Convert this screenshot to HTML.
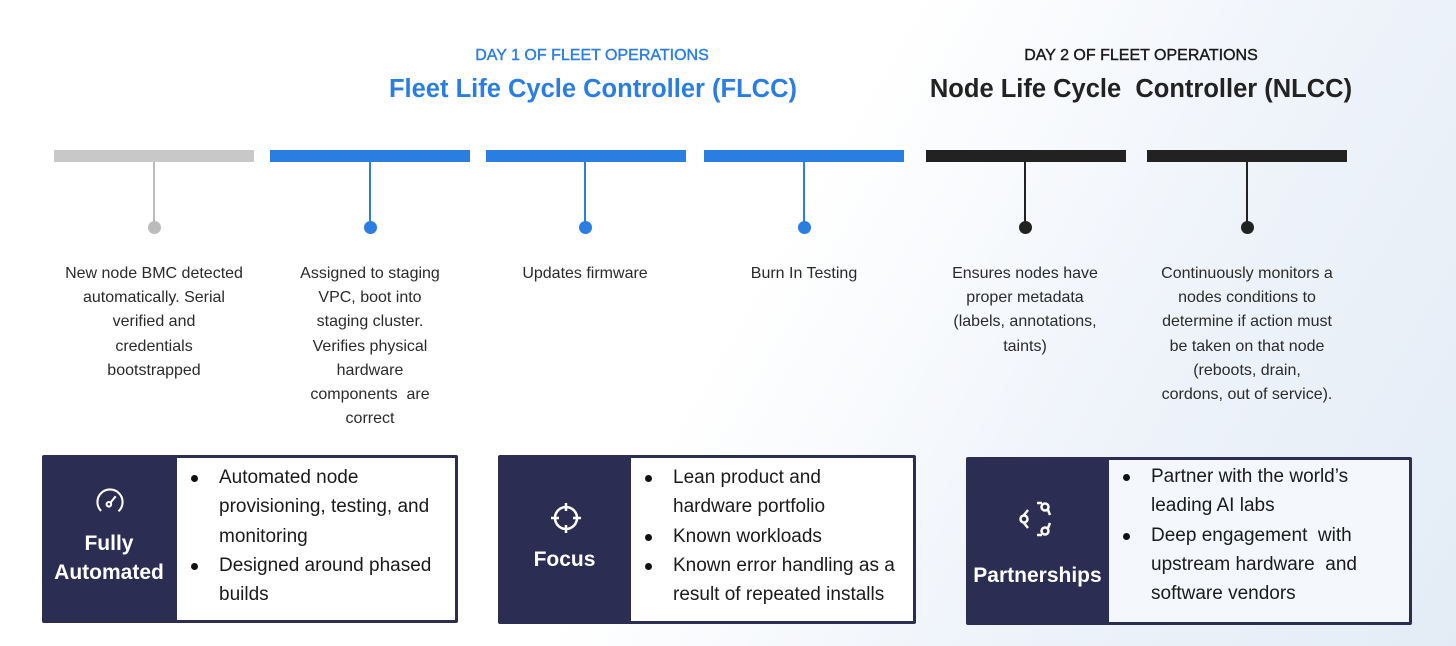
<!DOCTYPE html>
<html><head><meta charset="utf-8"><style>
*{margin:0;padding:0;box-sizing:border-box}
body{width:1456px;height:646px;overflow:hidden;position:relative;font-family:"Liberation Sans","DejaVu Sans",sans-serif;
background:linear-gradient(120deg,#ffffff 0%,#ffffff 50%,#eef3fa 75%,#e3ecf6 100%);}
.a{position:absolute}
.hd{position:absolute;text-align:center;white-space:nowrap}
.bar{position:absolute;top:150px;height:12px;width:200px}
.stem{position:absolute;top:162px;width:2px;height:64px}
.dot{position:absolute;top:221px;width:13px;height:13px;border-radius:50%}
.desc{position:absolute;top:262px;width:190px;text-align:center;font-size:16px;line-height:24.2px;color:#2a2a2a}
.box{position:absolute;background:#2b2d52;border-radius:2px}
.inner{position:absolute;background:#fff;top:3px;bottom:3px;right:3px}
.lbl{position:absolute;color:#fff;text-align:center;font-size:21px;line-height:29px;font-weight:bold}
ul{list-style:none;font-size:19px;line-height:29.3px;color:#1a1a1a}
li{position:relative;padding-left:42px}
li:before{content:"";position:absolute;left:14px;top:12px;width:7px;height:7px;border-radius:50%;background:#111}
</style></head><body>
<div class="hd" style="left:392px;width:400px;top:47px;font-size:16px;color:#2a7de1;-webkit-text-stroke:0.4px #2a7de1">DAY 1 OF FLEET OPERATIONS</div>
<div class="hd" style="left:343px;width:500px;top:75px;font-size:25.5px;font-weight:bold;color:#2a7de1">Fleet Life Cycle Controller (FLCC)</div>
<div class="hd" style="left:941px;width:400px;top:47px;font-size:16px;color:#1a1a1a;-webkit-text-stroke:0.4px #1a1a1a">DAY 2 OF FLEET OPERATIONS</div>
<div class="hd" style="left:891px;width:500px;top:75px;font-size:25.5px;font-weight:bold;color:#222">Node Life Cycle&nbsp; Controller (NLCC)</div>

<div class="bar" style="left:54px;background:#c8c8c8"></div>
<div class="bar" style="left:270px;background:#2a7de1"></div>
<div class="bar" style="left:486px;background:#2a7de1"></div>
<div class="bar" style="left:704px;background:#2a7de1"></div>
<div class="bar" style="left:926px;background:#222"></div>
<div class="bar" style="left:1147px;background:#222"></div>

<div class="stem" style="left:153px;background:#bbb"></div><div class="dot" style="left:148px;background:#bbb"></div>
<div class="stem" style="left:369px;background:#2a7de1"></div><div class="dot" style="left:364px;background:#2a7de1"></div>
<div class="stem" style="left:584px;background:#2a7de1"></div><div class="dot" style="left:579px;background:#2a7de1"></div>
<div class="stem" style="left:803px;background:#2a7de1"></div><div class="dot" style="left:798px;background:#2a7de1"></div>
<div class="stem" style="left:1024px;background:#222"></div><div class="dot" style="left:1019px;background:#222"></div>
<div class="stem" style="left:1246px;background:#222"></div><div class="dot" style="left:1241px;background:#222"></div>

<div class="desc" style="left:59px;width:190px">New node BMC detected<br>automatically. Serial<br>verified and<br>credentials<br>bootstrapped</div>
<div class="desc" style="left:275px">Assigned to staging<br>VPC, boot into<br>staging cluster.<br>Verifies physical<br>hardware<br>components&nbsp; are<br>correct</div>
<div class="desc" style="left:490px">Updates firmware</div>
<div class="desc" style="left:709px">Burn In Testing</div>
<div class="desc" style="left:930px">Ensures nodes have<br>proper metadata<br>(labels, annotations,<br>taints)</div>
<div class="desc" style="left:1142px;width:210px">Continuously monitors a<br>nodes conditions to<br>determine if action must<br>be taken on that node<br>(reboots, drain,<br>cordons, out of service).</div>

<div class="box" style="left:42px;top:455px;width:416px;height:168px">
 <svg class="a" style="left:52px;top:31px" width="32" height="32" viewBox="0 0 28 28" fill="none" stroke="#fff" stroke-width="1.8"><circle cx="14" cy="14" r="11" stroke-dasharray="52 17" transform="rotate(135 14 14)"/><circle cx="13" cy="16" r="2"/><path d="M14.5 14.5L19 9"/></svg>
 <div class="lbl" style="left:0;width:134px;top:74px">Fully<br>Automated</div>
 <div class="inner" style="left:135px"><ul style="margin-top:5px"><li>Automated node<br>provisioning, testing, and<br>monitoring</li><li>Designed around phased<br>builds</li></ul></div>
</div>
<div class="box" style="left:498px;top:455px;width:418px;height:169px">
 <svg class="a" style="left:51px;top:46px" width="34" height="34" viewBox="0 0 34 34" fill="none" stroke="#fff" stroke-width="2.5"><circle cx="17" cy="17" r="11"/><path d="M17 2v8M17 24v8M2 17h8M24 17h8"/></svg>
 <div class="lbl" style="left:0;width:133px;top:90px">Focus</div>
 <div class="inner" style="left:133px"><ul style="margin-top:5px"><li>Lean product and<br>hardware portfolio</li><li>Known workloads</li><li>Known error handling as a<br>result of repeated installs</li></ul></div>
</div>
<div class="box" style="left:966px;top:457px;width:446px;height:168px">
 <svg class="a" style="left:52px;top:42px" width="38" height="40" viewBox="0 0 38 40" fill="none" stroke="#fff" stroke-width="2.5"><circle cx="27" cy="8" r="3.5"/><circle cx="6" cy="20" r="3.5"/><circle cx="27" cy="32" r="3.5"/><path d="M19 4h5M30 11l2 5M19 36h5M32 24l-2 5M6 16l4-5M6 24l4 5"/></svg>
 <div class="lbl" style="left:0;width:143px;top:104px">Partnerships</div>
 <div class="inner" style="left:143px;background:#f4f8fc"><ul style="margin-top:2px"><li>Partner with the world’s<br>leading AI labs</li><li>Deep engagement&nbsp; with<br>upstream hardware&nbsp; and<br>software vendors</li></ul></div>
</div>
</body></html>
